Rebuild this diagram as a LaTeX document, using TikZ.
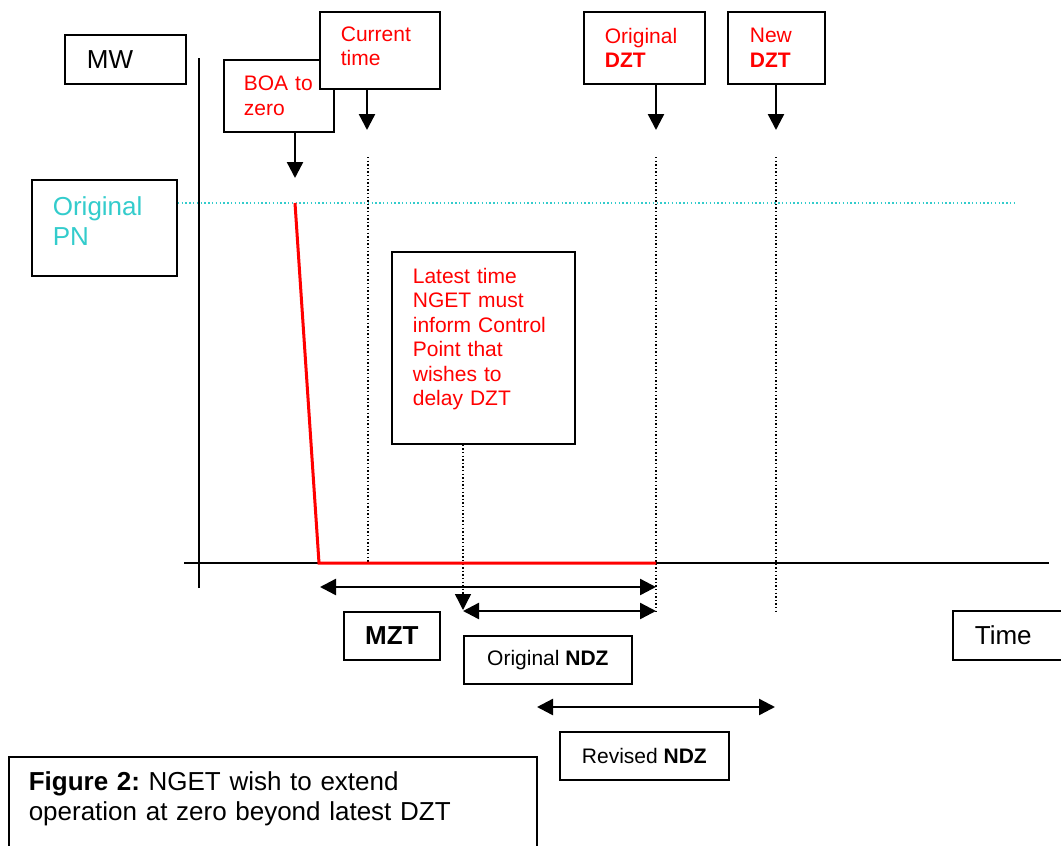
\documentclass[tikz,border=0pt]{standalone}
\usepackage{fontspec}
\setmainfont{Liberation Sans}
\usetikzlibrary{arrows.meta}
\definecolor{pncyan}{RGB}{51,204,204}
\newcommand{\bigtext}{\fontsize{26}{30}\selectfont}
\newcommand{\smalltext}{\fontsize{21}{24.5}\selectfont}
\frenchspacing

\begin{document}
\begin{tikzpicture}[x=1pt,y=-1pt]
\tikzstyle{box} = [rectangle, draw=black, line width=1.7pt, fill=white, anchor=north west, align=left, inner xsep=0pt, inner ysep=0pt]
\tikzstyle{redtext} = [text=red, font=\smalltext]
\tikzstyle{blacktext} = [text=black, font=\bigtext]
\tikzstyle{arrow} = [line width=2.4pt, -{Triangle[width=16pt,length=16pt]}]
\tikzstyle{twoway} = [line width=2.4pt, {Triangle[width=16pt,length=16pt]}-{Triangle[width=16pt,length=16pt]}]
\tikzstyle{guide} = [line width=1.4pt, dash pattern=on 1.4pt off 2.2pt]

\useasboundingbox (0,0) rectangle (1061,846);

\node [box, blacktext, minimum width=121pt, minimum height=49pt, text width=77pt] (mw) at (64,34) {MW};
\node [box, redtext, minimum width=110pt, minimum height=72pt, text width=70pt] (boa) at (223,59) {BOA to\\zero};
\node [box, redtext, minimum width=120pt, minimum height=77pt, text width=78pt] (curr) at (319,11) {Current\\time\rule[-8pt]{0pt}{0pt}};
\node [box, redtext, minimum width=121pt, minimum height=72pt, text width=79pt] (odzt) at (583,11) {Original\\\textbf{DZT}};
\node [box, redtext, minimum width=97pt, minimum height=72pt, text width=53pt] (ndzt) at (727,11) {New\\\textbf{DZT}};
\node [box, font=\bigtext, text=pncyan, minimum width=145pt, minimum height=96pt, text width=103pt] (pn) at (31,179) {Original\\PN\rule[-14pt]{0pt}{0pt}};
\node [box, redtext, minimum width=183pt, minimum height=192pt, text width=141pt] (latest) at (391,251) {Latest time\\NGET must\\inform Control\\Point that\\wishes to\\delay DZT\rule[-22pt]{0pt}{0pt}};

\node [box, font=\bigtext\bfseries, minimum width=96pt, minimum height=48pt] (mzt) at (343,611) {MZT};
\node [box, font=\smalltext, minimum width=168pt, minimum height=48pt] (ondz) at (463,635) {Original \textbf{NDZ}};
\node [box, font=\smalltext, minimum width=169pt, minimum height=48pt] (rndz) at (559,731) {Revised \textbf{NDZ}};
\node [box, blacktext, minimum width=130pt, minimum height=49pt, text width=86pt] (time) at (952,610) {Time};
\node [box, blacktext, line width=1.5pt, minimum width=528pt, text width=488pt, inner ysep=15pt] (fig) at (8,756) {\textbf{Figure 2:} NGET wish to extend\\operation at zero beyond latest DZT\rule[-40pt]{0pt}{0pt}};

% axes
\coordinate (ytop) at (199,58);
\coordinate (ybot) at (199,588);
\coordinate (xleft) at (184,563);
\coordinate (xright) at (1049,563);
\draw [line width=1.8pt] (ybot) -- (ytop);
\draw [line width=1.8pt] (xleft) -- (xright);

% original PN level
\coordinate (pnend) at (1015,203);
\draw [guide, pncyan, dash pattern=on 1.4pt off 2.4pt] (pn.east |- pnend) -- (pnend);

% guide lines
\draw [guide] (368,157) -- (368,563);
\draw [guide] (656,157) -- (656,611);
\draw [guide] (776,157) -- (776,611);
\coordinate (latesttip) at (463,610);
\draw [guide, -{Triangle[width=16pt,length=16pt]}] (latest.south -| latesttip) -- (latesttip);

% output
\coordinate (v1) at (295,203);
\coordinate (v2) at (319,563);
\coordinate (v3) at (656,563);
\draw [red, line width=3pt] (v1) -- (v2) -- (v3);

% pointers
\coordinate (boatip) at (295,178);
\coordinate (currtip) at (367,130);
\coordinate (odzttip) at (656,130);
\coordinate (ndzttip) at (776,130);
\draw [arrow] (boa.south -| boatip) -- (boatip);
\draw [arrow] (curr.south -| currtip) -- (currtip);
\draw [arrow] (odzt.south -| odzttip) -- (odzttip);
\draw [arrow] (ndzt.south -| ndzttip) -- (ndzttip);

% durations
\coordinate (mzt1) at (320,587);
\coordinate (mzt2) at (656,587);
\coordinate (ondz1) at (463,611);
\coordinate (ondz2) at (656,611);
\coordinate (rndz1) at (537,707);
\coordinate (rndz2) at (775,707);
\draw [twoway] (mzt1) -- (mzt2);
\draw [twoway] (ondz1) -- (ondz2);
\draw [twoway] (rndz1) -- (rndz2);
\end{tikzpicture}
\end{document}
